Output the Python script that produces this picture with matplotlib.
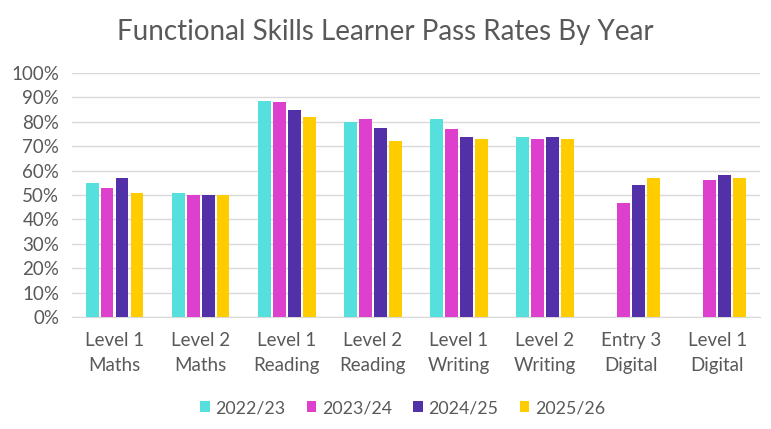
import matplotlib
matplotlib.use("Agg")
import matplotlib.pyplot as plt
import numpy as np

plt.rcParams['font.family'] = ['Lato', 'DejaVu Sans']

categories = ["Level 1\nMaths", "Level 2\nMaths", "Level 1\nReading", "Level 2\nReading",
              "Level 1\nWriting", "Level 2\nWriting", "Entry 3\nDigital", "Level 1\nDigital"]
years = ["2022/23", "2023/24", "2024/25", "2025/26"]

# pass rates in %, None where no data
rates_2022 = [55, 50.7, 88.7, 80, 81.3, 73.8, None, None]
rates_2023 = [53, 50.1, 88, 81.3, 77.2, 73.1, 46.7, 56.3]
rates_2024 = [57, 50.1, 84.7, 77.3, 73.8, 73.8, 54.2, 58.2]
rates_2025 = [51, 50, 82, 72, 73.1, 73.1, 57, 57]

series = [rates_2022, rates_2023, rates_2024, rates_2025]
colors = ["#55DFDD", "#DD40CD", "#5230A8", "#FFCC00"]

fig = plt.figure(figsize=(7.71, 4.29), dpi=100)
ax = fig.add_axes([0.093, 0.261, 0.893, 0.569])

x = np.arange(len(categories))
step = 0.174
width = 0.145
for i, (vals, col, yr) in enumerate(zip(series, colors, years)):
    offs = (i - 1.5) * step
    xs = [x[j] + offs for j, v in enumerate(vals) if v is not None]
    hs = [v / 100 for v in vals if v is not None]
    ax.bar(xs, hs, width=width, color=col, label=yr, zorder=3)

ax.set_xlim(-0.5, len(categories) - 0.5)
ax.set_ylim(0, 1.0)
ax.set_yticks(np.arange(0, 1.01, 0.1))
ax.set_yticklabels([f"{int(round(t * 100))}%" for t in np.arange(0, 1.01, 0.1)])
ax.yaxis.grid(True, color="#D9D9D9", linewidth=1, zorder=0)
ax.set_xticks(x)
ax.set_xticklabels(categories, linespacing=1.55)

for s in ["top", "right", "left"]:
    ax.spines[s].set_visible(False)
ax.spines["bottom"].set_color("#D9D9D9")
ax.tick_params(axis="both", length=0, labelsize=13.5, colors="#595959")
ax.tick_params(axis="y", pad=9)
ax.tick_params(axis="x", pad=11)

fig.suptitle("Functional Skills Learner Pass Rates By Year", fontsize=20,
             color="#595959", y=0.955)

fig.legend(loc="center", ncol=4, frameon=False, fontsize=12.8,
           bbox_to_anchor=(0.522, 1 - 408 / 429), handlelength=0.55, handleheight=0.6,
           handletextpad=0.3, columnspacing=1.2, labelcolor="#595959")

fig.savefig("out.png", dpi=100)
